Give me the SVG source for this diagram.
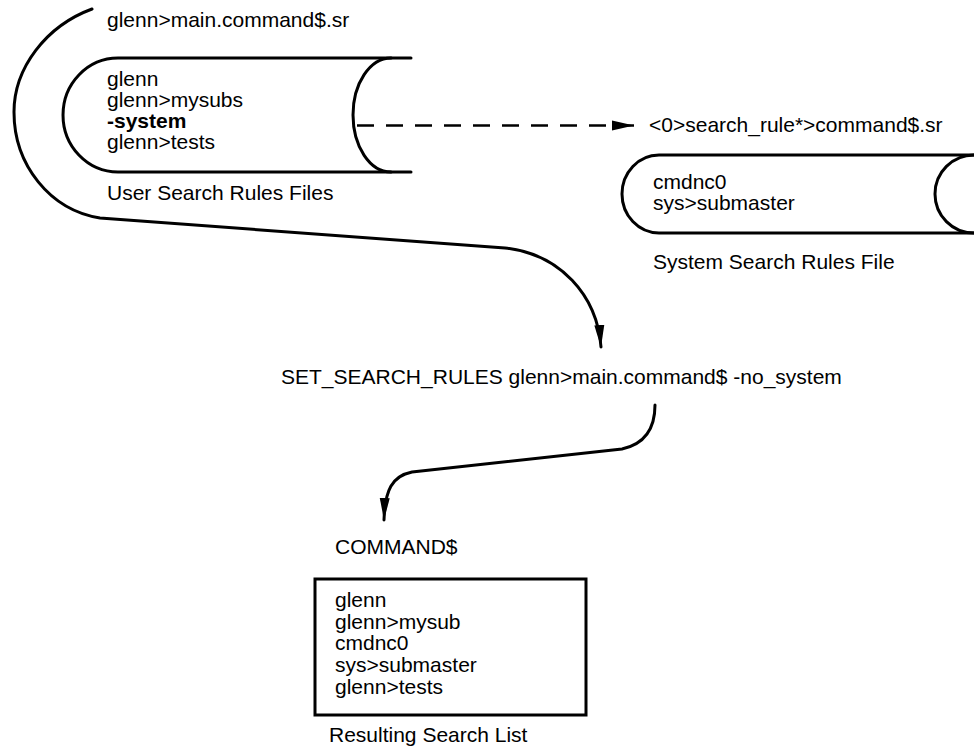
<svg xmlns="http://www.w3.org/2000/svg" width="974" height="750" viewBox="0 0 974 750">
  <style>
    text { font-family: "Liberation Sans", Arial, sans-serif; font-size: 21px; fill: #000; }
    .b { font-weight: bold; }
    .ln { fill: none; stroke: #000; stroke-width: 3; stroke-linecap: round; stroke-linejoin: round; }
    .dash { fill: none; stroke: #000; stroke-width: 2.5; stroke-dasharray: 17 12; }
  </style>
  <defs>
    <marker id="ah" viewBox="0 0 22 12" refX="22" refY="6" markerWidth="22" markerHeight="12" markerUnits="userSpaceOnUse" orient="auto">
      <path d="M0,1 L22,6 L0,11 Z" fill="#000"/>
    </marker>
  </defs>
  <rect width="974" height="750" fill="#fff"/>

  <!-- user search rules file -->
  <g id="user-rules">
    <text x="107" y="27">glenn&gt;main.command$.sr</text>
    <path class="ln" d="M411 58 H118 A55 57 0 0 0 118 172 H411"/>
    <path class="ln" d="M391 58 A38 57 0 0 0 391 172"/>
    <text x="107" y="86">glenn</text>
    <text x="107" y="107">glenn&gt;mysubs</text>
    <text x="107" y="128" class="b">-system</text>
    <text x="107" y="149">glenn&gt;tests</text>
    <text x="107" y="200">User Search Rules Files</text>
  </g>

  <!-- system search rules file -->
  <g id="system-rules">
    <text x="649" y="132">&lt;0&gt;search_rule*&gt;command$.sr</text>
    <path class="ln" d="M980 155 H659 A37 39 0 0 0 659 233 H980"/>
    <path class="ln" d="M974 155 A39 39 0 0 0 974 233"/>
    <text x="653" y="189">cmdnc0</text>
    <text x="653" y="210">sys&gt;submaster</text>
    <text x="653" y="269">System Search Rules File</text>
  </g>

  <!-- command line -->
  <g id="command">
    <text x="281" y="384">SET_SEARCH_RULES glenn&gt;main.command$ -no_system</text>
  </g>

  <!-- resulting list -->
  <g id="result">
    <text x="335" y="554">COMMAND$</text>
    <rect x="315" y="579" width="271" height="136" fill="none" stroke="#000" stroke-width="3"/>
    <text x="335" y="607">glenn</text>
    <text x="335" y="628.5">glenn&gt;mysub</text>
    <text x="335" y="650">cmdnc0</text>
    <text x="335" y="672">sys&gt;submaster</text>
    <text x="335" y="693.5">glenn&gt;tests</text>
    <text x="329" y="742">Resulting Search List</text>
  </g>

  <!-- connectors -->
  <g id="connectors">
    <path class="dash" d="M357 125.5 H634" marker-end="url(#ah)"/>
    <path class="ln" d="M92 9 C46 26 14 68 14 112 C14 165 50 210 100 218 L505 248 C560 254 597 295 601 347" marker-end="url(#ah)"/>
    <path class="ln" d="M655 405 C655 428 645 444 622 449 L412 472 C392 476 385 490 384 520" marker-end="url(#ah)"/>
  </g>
</svg>
